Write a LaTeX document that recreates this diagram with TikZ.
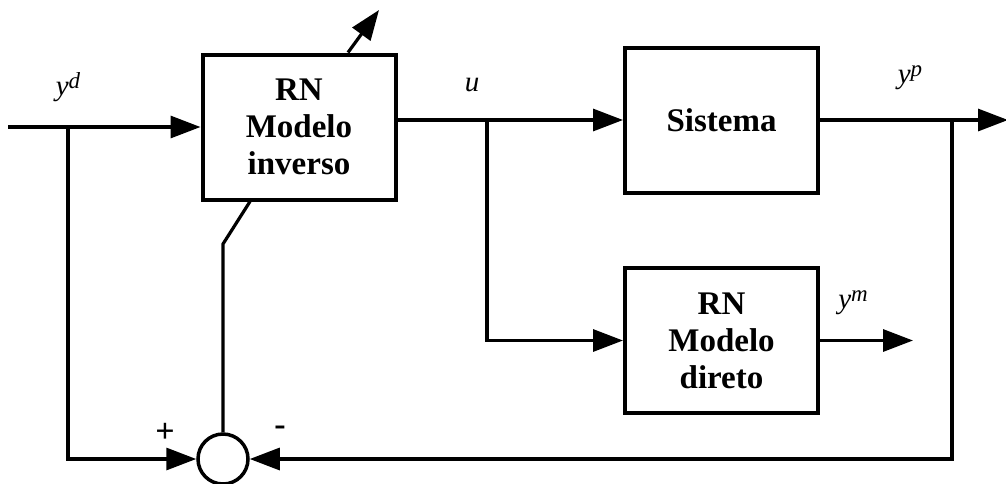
\documentclass[tikz,border=0pt]{standalone}
\usepackage{fontspec}
\setmainfont{Liberation Serif}
\usetikzlibrary{arrows.meta}
\newcommand{\lbl}[2]{{\fontsize{29}{29}\selectfont\itshape #1\raisebox{7pt}{\fontsize{23}{23}\selectfont\itshape #2}}}
\begin{document}
\begin{tikzpicture}[x=1pt,y=-1pt,
  blockbox/.style={draw,line width=4pt,minimum width=193pt,minimum height=145pt,align=center,
    font=\fontsize{33}{37}\selectfont\bfseries,inner sep=0pt},
  conn/.style={line width=3.2pt},
  arr/.style={conn,-{Triangle[length=30pt,width=22pt]}},
  lab/.style={inner sep=0pt,font=\fontsize{29}{29}\selectfont\itshape},
  sign/.style={inner sep=0pt,font=\fontsize{34}{34}\selectfont}]
\useasboundingbox (0,0) rectangle (1006,483);
% blocks
\node[blockbox] (inv) at (299,127) {RN\\Modelo\\inverso};
\node[blockbox] (sys) at (721.5,120) {Sistema};
\node[blockbox] (dir) at (721.5,340.5) {RN\\Modelo\\direto};
\node[draw,circle,line width=3.5pt,minimum size=50pt,inner sep=0pt] (sum) at (223,459) {};
% coordinates
\coordinate (in) at (8,127);
\coordinate (brd) at (68,127);
\coordinate (bru) at (487,120);
\coordinate (brp) at (952,120);
\coordinate (out) at (1008,120);
\coordinate (mout) at (913,340.5);
\coordinate (kink) at (223,244);
\coordinate (adapt) at (379,10);
% connectors
\draw[arr] (in) -- (inv.west |- in);
\draw[arr] (brd) |- (sum.west);
\draw[arr] (inv.east |- sys.west) -- (sys.west);
\draw[arr] (bru) |- (dir.west);
\draw[arr] (sys.east) -- (out);
\draw[arr] (brp) |- (sum.east);
\draw[arr] (dir.east) -- (mout);
\draw[conn] (inv.south -| 250,0) -- (kink) -- (sum.north);
\draw[arr] (inv.north -| 348,0) -- (adapt);
% labels
\node[lab] (lyd) at (68,87) {\lbl{y}{d}};
\node[lab] (lu) at (472,85) {u};
\node[lab] (lyp) at (910,78) {\lbl{y}{p}};
\node[lab] (lym) at (853,303) {\lbl{y}{m}};
\node[sign] (plus) at (165,433) {\bfseries +};
\node[sign] (minus) at (280,431) {\bfseries -};
\end{tikzpicture}
\end{document}
